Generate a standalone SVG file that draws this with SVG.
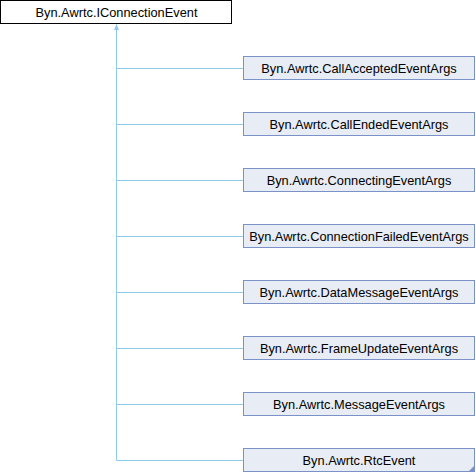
<svg xmlns="http://www.w3.org/2000/svg" width="476" height="472" viewBox="0 0 476 472">
<style>
.n rect{fill:#e8ecf5;stroke:#7b92c9;stroke-width:1}
.base rect{fill:#ffffff;stroke:#000000;stroke-width:1}
text{font-family:"Liberation Sans",Arial,sans-serif;font-size:12.8px;fill:#000;text-anchor:middle}
.e{stroke:#8ecaea;stroke-width:1;fill:none}
</style>
<g id="connectors">
<path class="e" d="M116.5,460.5 V24.5"/>
<path d="M114,30 L116.5,24 L119,30 Z" fill="#8ecaea"/>
<path class="e" d="M116.5,68.5 H243.5"/>
<path class="e" d="M116.5,124.5 H243.5"/>
<path class="e" d="M116.5,180.5 H243.5"/>
<path class="e" d="M116.5,236.5 H243.5"/>
<path class="e" d="M116.5,292.5 H243.5"/>
<path class="e" d="M116.5,348.5 H243.5"/>
<path class="e" d="M116.5,404.5 H243.5"/>
<path class="e" d="M116.5,460.5 H243.5"/>
</g>
<g id="IConnectionEvent" class="base"><rect x="0.5" y="0.5" width="231" height="23"/><text x="116.5" y="16.5">Byn.Awrtc.IConnectionEvent</text></g>
<g id="CallAcceptedEventArgs" class="n"><rect x="243.5" y="56.5" width="231" height="23"/><text x="359" y="72.5">Byn.Awrtc.CallAcceptedEventArgs</text></g>
<g id="CallEndedEventArgs" class="n"><rect x="243.5" y="112.5" width="231" height="23"/><text x="359" y="128.5">Byn.Awrtc.CallEndedEventArgs</text></g>
<g id="ConnectingEventArgs" class="n"><rect x="243.5" y="168.5" width="231" height="23"/><text x="359" y="184.5">Byn.Awrtc.ConnectingEventArgs</text></g>
<g id="ConnectionFailedEventArgs" class="n"><rect x="243.5" y="224.5" width="231" height="23"/><text x="359" y="240.5">Byn.Awrtc.ConnectionFailedEventArgs</text></g>
<g id="DataMessageEventArgs" class="n"><rect x="243.5" y="280.5" width="231" height="23"/><text x="359" y="296.5">Byn.Awrtc.DataMessageEventArgs</text></g>
<g id="FrameUpdateEventArgs" class="n"><rect x="243.5" y="336.5" width="231" height="23"/><text x="359" y="352.5">Byn.Awrtc.FrameUpdateEventArgs</text></g>
<g id="MessageEventArgs" class="n"><rect x="243.5" y="392.5" width="231" height="23"/><text x="359" y="408.5">Byn.Awrtc.MessageEventArgs</text></g>
<g id="RtcEvent" class="n"><rect x="243.5" y="448.5" width="231" height="23"/><text x="359" y="464.5">Byn.Awrtc.RtcEvent</text><path d="M475,465 L475,471 L469,471 Z" fill="#7b92c9"/></g>
</svg>
